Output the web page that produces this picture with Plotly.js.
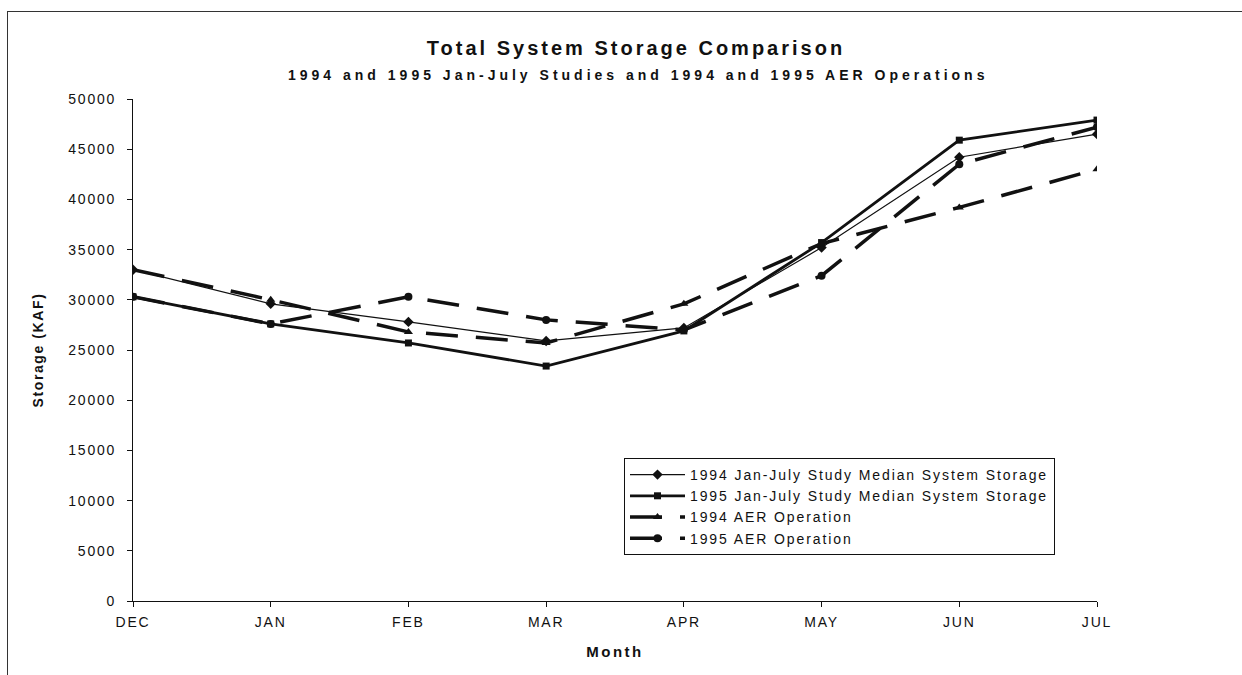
<!DOCTYPE html>
<html>
<head>
<meta charset="utf-8">
<script src="https://cdn.plot.ly/plotly-3.0.1.min.js"></script>
<style>
  html, body { margin: 0; padding: 0; background: #fff; }
  #wrap { position: relative; width: 1242px; height: 675px; overflow: hidden; }
  #frame { position: absolute; left: 7px; top: 11px; width: 1250px; height: 700px;
           border-top: 1.5px solid #333; border-left: 1.5px solid #333; }
  #chart { position: absolute; left: 0; top: 0; width: 1242px; height: 675px; }
  .xtick text, .ytick text { letter-spacing: 1.8px; }
  .legendtext { letter-spacing: 1.9px; }
  .xtitle { letter-spacing: 2.5px; }
  .ytitle { letter-spacing: 1.6px; }
  .gtitle { letter-spacing: 3px; }
  .annotation-text { letter-spacing: 4px; }
</style>
</head>
<body>
<div id="wrap">
  <div id="frame"></div>
  <div id="chart"></div>
</div>
<script>
const months = ["DEC", "JAN", "FEB", "MAR", "APR", "MAY", "JUN", "JUL"];
const study1994 = [33000, 29600, 27800, 25900, 27200, 35200, 44200, 46500];
const study1995 = [30300, 27600, 25700, 23400, 26900, 35700, 45900, 47900];
const aer1994   = [33000, 30000, 26800, 25700, 29600, 35600, 39200, 43000];
const aer1995   = [30300, 27600, 30300, 28000, 27000, 32400, 43500, 47200];
const seriesNames = [
  "1994 Jan-July Study Median System Storage",
  "1995 Jan-July Study Median System Storage",
  "1994 AER Operation",
  "1995 AER Operation"
];

const ink = "#111";
const font = "Liberation Sans, Arial, sans-serif";

const traces = [
  { x: months, y: study1994, name: seriesNames[0], mode: "lines+markers",
    line: { color: ink, width: 1.2 }, marker: { symbol: "diamond", size: 8, color: ink } },
  { x: months, y: study1995, name: seriesNames[1], mode: "lines+markers",
    line: { color: ink, width: 2.8 }, marker: { symbol: "square", size: 7, color: ink } },
  { x: months, y: aer1994, name: seriesNames[2], mode: "lines+markers",
    line: { color: ink, width: 3.5, dash: "32px,18px" }, marker: { symbol: "triangle-up", size: 8, color: ink } },
  { x: months, y: aer1995, name: seriesNames[3], mode: "lines+markers",
    line: { color: ink, width: 3.5, dash: "32px,18px" }, marker: { symbol: "circle", size: 8, color: ink } }
];

const layout = {
  width: 1242, height: 675,
  paper_bgcolor: "rgba(0,0,0,0)", plot_bgcolor: "rgba(0,0,0,0)",
  margin: { l: 133, r: 145, t: 99, b: 74 },
  font: { family: font, color: ink, size: 14 },
  showlegend: true,
  title: { text: "<b>Total System Storage Comparison</b>", font: { family: font, size: 20, color: ink },
           x: 636 / 1242, xanchor: "center", xref: "container",
           y: 1 - 48 / 675, yanchor: "middle", yref: "container" },
  annotations: [{
    text: "<b>1994 and 1995 Jan-July Studies and 1994 and 1995 AER Operations</b>",
    xref: "paper", yref: "paper", x: (638 - 133) / 964, y: (601 - 75) / 502,
    xanchor: "center", yanchor: "middle", showarrow: false,
    font: { family: font, size: 14, color: ink }
  }],
  xaxis: {
    type: "category", categoryorder: "array", categoryarray: months,
    range: [0, 7], showgrid: false, zeroline: false,
    showline: true, linecolor: ink, linewidth: 1,
    ticks: "outside", ticklen: 5, tickcolor: ink, tickwidth: 1,
    ticklabelstandoff: 3,
    tickfont: { family: font, size: 14, color: ink },
    title: { text: "<b>Month</b>", font: { family: font, size: 15, color: ink }, standoff: 17 }
  },
  yaxis: {
    range: [0, 50000], dtick: 5000, tickformat: "d", showgrid: false, zeroline: false,
    showline: true, linecolor: ink, linewidth: 1,
    ticks: "outside", ticklen: 5, tickcolor: ink, tickwidth: 1,
    ticklabelstandoff: 8,
    tickfont: { family: font, size: 14, color: ink },
    title: { text: "<b>Storage (KAF)</b>", font: { family: font, size: 14, color: ink }, standoff: 21 }
  },
  xaxis2: { overlaying: "x", anchor: "y", range: [0, 7], dtick: 1, showgrid: false, zeroline: false,
            showline: false, ticks: "inside", ticklen: 5, tickcolor: ink, showticklabels: false },
  yaxis2: { overlaying: "y", anchor: "x", range: [0, 50000], dtick: 5000, showgrid: false, zeroline: false,
            showline: false, ticks: "inside", ticklen: 5, tickcolor: ink, showticklabels: false },
  legend: {
    x: (624 - 133) / 964, y: (601 - 458) / 502, xanchor: "left", yanchor: "top",
    bgcolor: "rgba(255,255,255,1)", bordercolor: ink, borderwidth: 1,
    font: { family: font, size: 14, color: ink },
    itemwidth: 55, tracegroupgap: 0
  }
};

Plotly.newPlot("chart", traces, layout, { staticPlot: true, displayModeBar: false });
</script>
</body>
</html>
